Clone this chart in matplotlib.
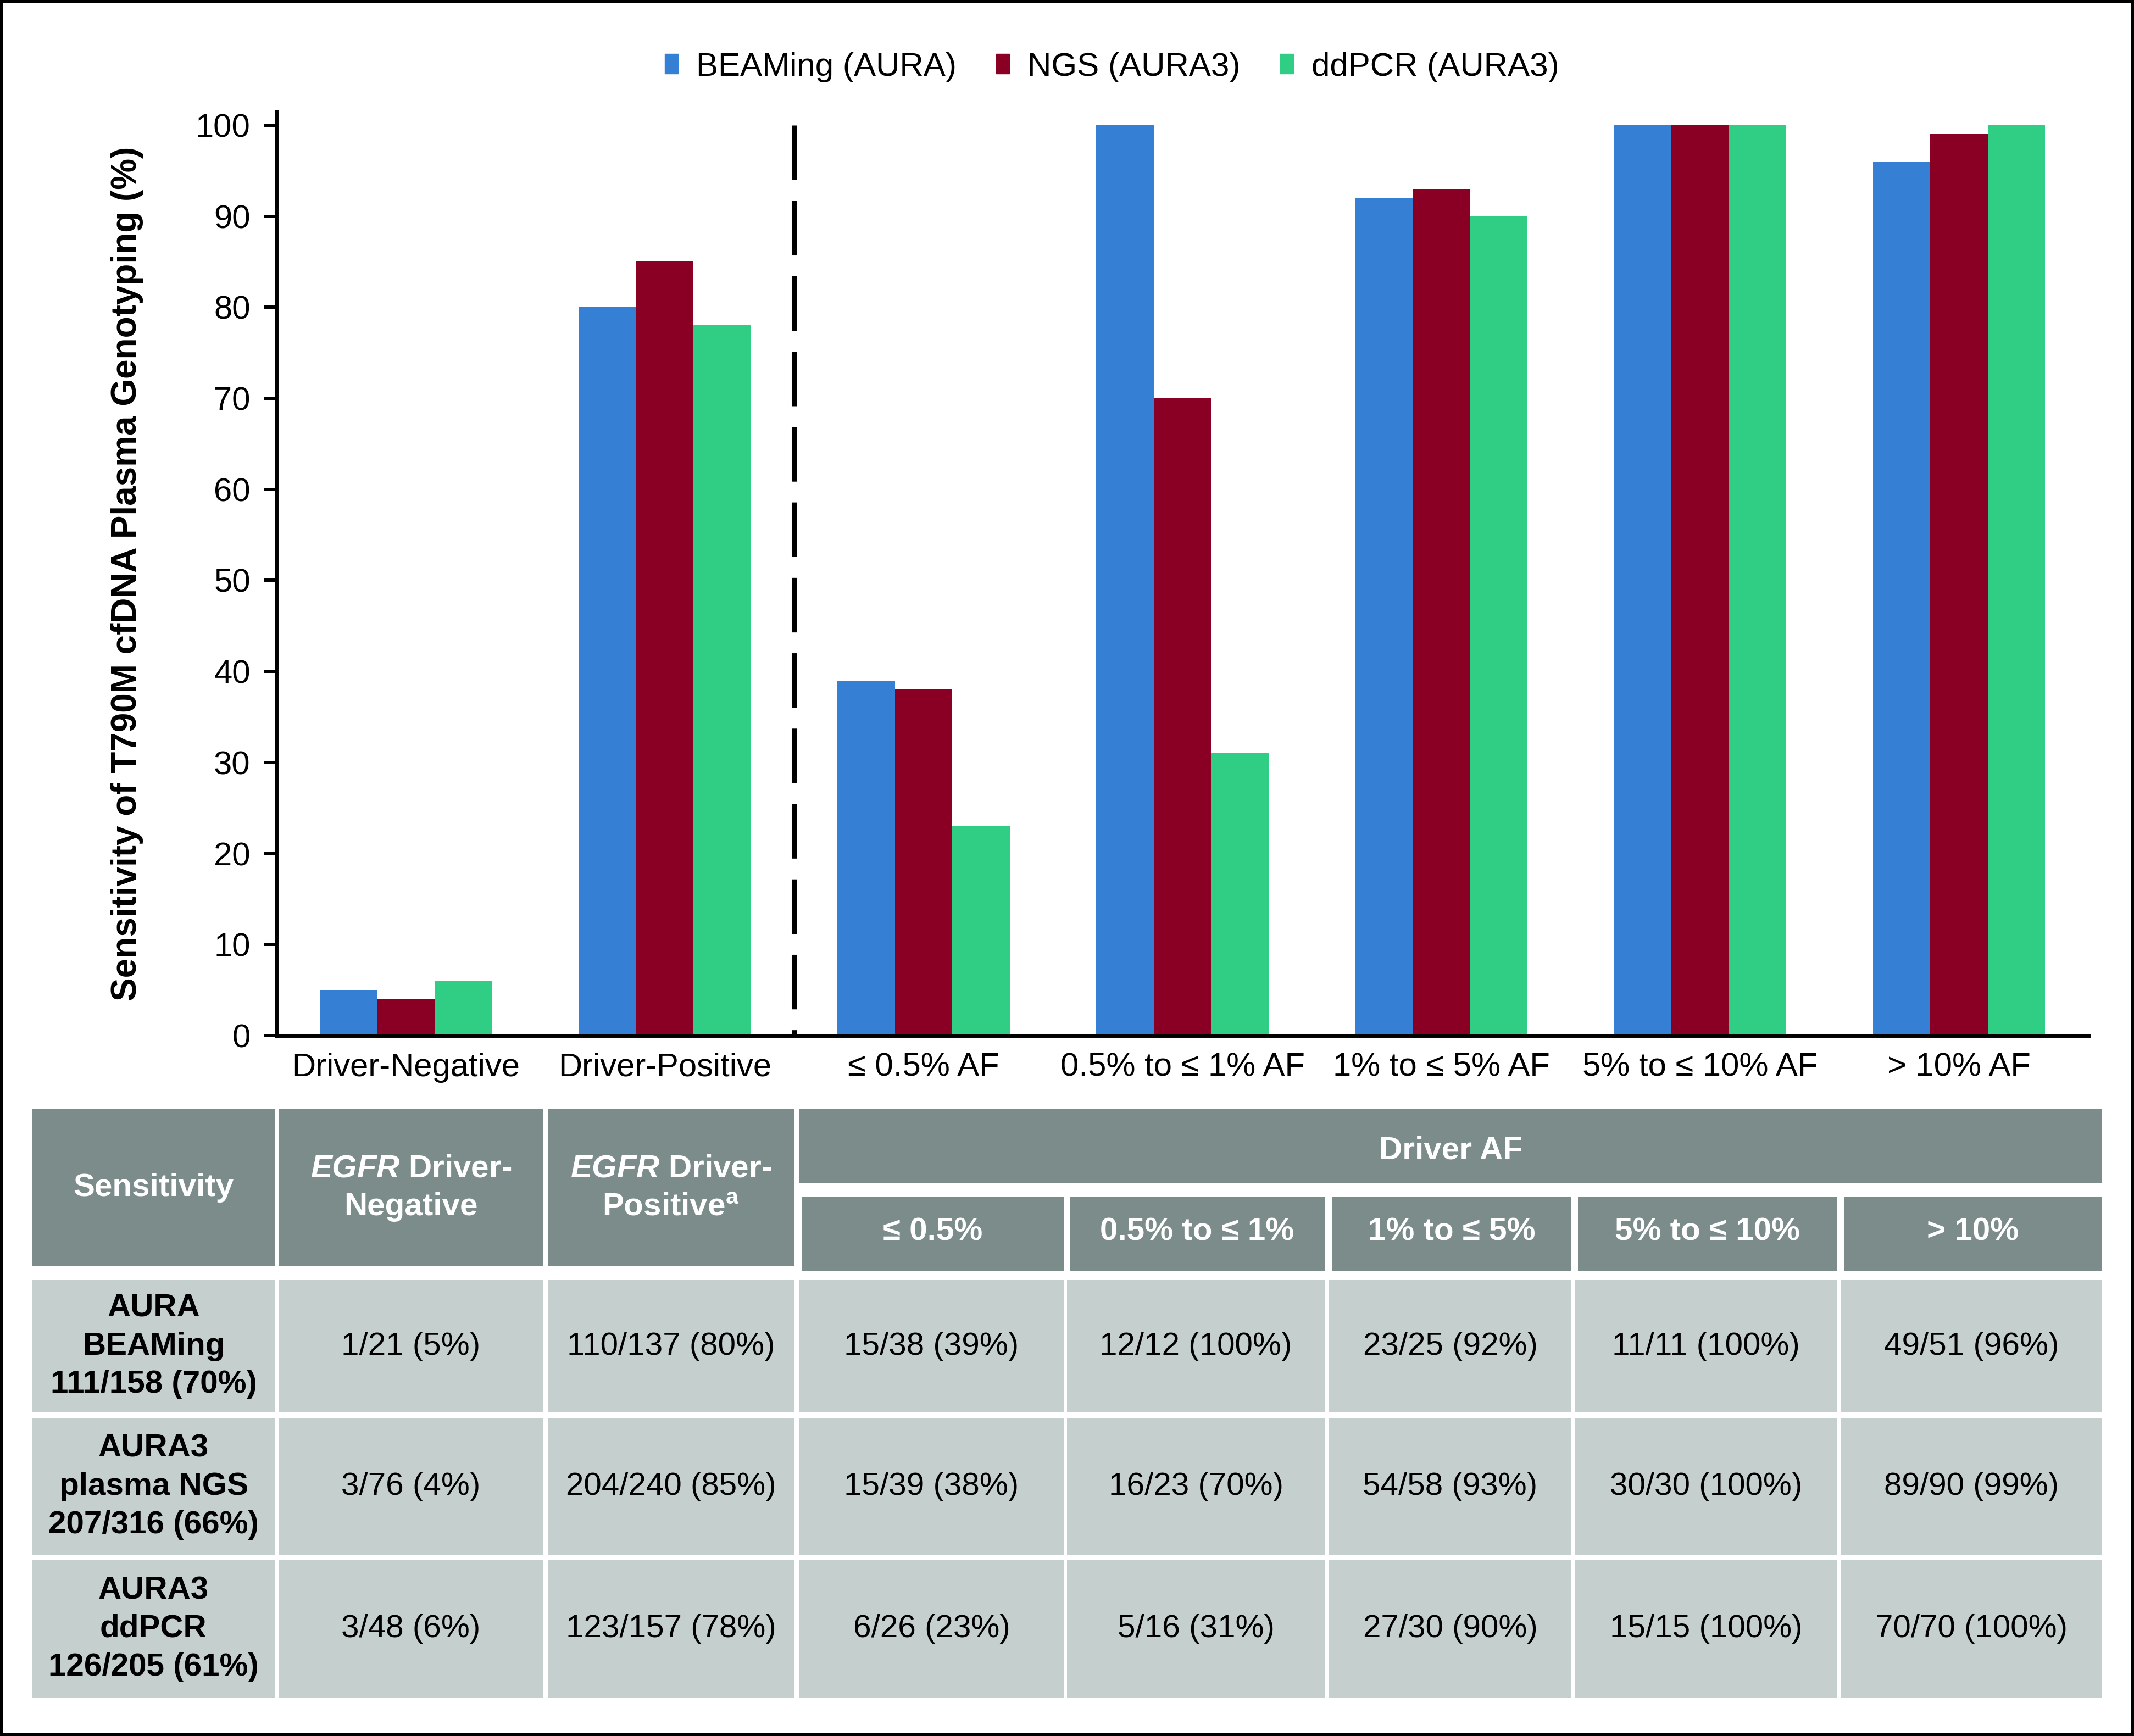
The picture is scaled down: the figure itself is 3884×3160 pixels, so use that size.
import numpy as np
import matplotlib
matplotlib.use('Agg')
import matplotlib.pyplot as plt
from matplotlib.patches import Rectangle, Patch

plt.rcParams['font.family'] = ['Liberation Sans', 'DejaVu Sans']
plt.rcParams['mathtext.fontset'] = 'custom'
plt.rcParams['mathtext.it'] = 'Liberation Sans:italic:bold'
plt.rcParams['mathtext.rm'] = 'Liberation Sans:bold'
plt.rcParams['mathtext.bf'] = 'Liberation Sans:bold'

# chart data
categories = ['Driver-Negative', 'Driver-Positive', '≤ 0.5% AF', '0.5% to ≤ 1% AF',
              '1% to ≤ 5% AF', '5% to ≤ 10% AF', '> 10% AF']
series_names = ['BEAMing (AURA)', 'NGS (AURA3)', 'ddPCR (AURA3)']
beaming = [5, 80, 39, 100, 92, 100, 96]
ngs = [4, 85, 38, 70, 93, 100, 99]
ddpcr = [6, 78, 23, 31, 90, 100, 100]
colors = ['#3580D5', '#8A0024', '#30CD84']

# table data
header_labels = ['Sensitivity', '$\\mathit{EGFR}$ Driver-\nNegative', '$\\mathit{EGFR}$ Driver-\nPositive$^{\\mathrm{a}}$']
af_title = 'Driver AF'
af_headers = ['≤ 0.5%', '0.5% to ≤ 1%', '1% to ≤ 5%', '5% to ≤ 10%', '> 10%']
row_labels = ['AURA\nBEAMing\n111/158 (70%)', 'AURA3\nplasma NGS\n207/316 (66%)', 'AURA3\nddPCR\n126/205 (61%)']
beaming_cells = ['1/21 (5%)', '110/137 (80%)', '15/38 (39%)', '12/12 (100%)', '23/25 (92%)', '11/11 (100%)', '49/51 (96%)']
ngs_cells = ['3/76 (4%)', '204/240 (85%)', '15/39 (38%)', '16/23 (70%)', '54/58 (93%)', '30/30 (100%)', '89/90 (99%)']
ddpcr_cells = ['3/48 (6%)', '123/157 (78%)', '6/26 (23%)', '5/16 (31%)', '27/30 (90%)', '15/15 (100%)', '70/70 (100%)']

W, H = 3884, 3160
fig = plt.figure(figsize=(W / 100, H / 100), dpi=100)

# ---- bar chart ----
ax_l, ax_r, ax_b, ax_t = 503, 3801, 1885, 203
ax = fig.add_axes([ax_l / W, 1 - ax_b / H, (ax_r - ax_l) / W, (ax_b - ax_t) / H])
x = np.arange(len(categories))
bw = 0.222
for i, (vals, c) in enumerate(zip([beaming, ngs, ddpcr], colors)):
    ax.bar(x + (i - 1) * bw, vals, width=bw, color=c, zorder=2)
# dashed separator, drawn top-down so the first dash starts at 100
ax.plot([1.5, 1.5], [100, 0], color='black', lw=6.5, dashes=(11, 4.2), zorder=3)
ax.set_xlim(-0.5, 6.5)
ax.set_ylim(0, 101.5)
ax.set_yticks(np.arange(0, 101, 10))
ax.set_xticks(x)
ax.set_xticklabels(categories, fontsize=43)
ax.tick_params(axis='y', labelsize=43, length=16, width=4.3, pad=18, direction='out')
ax.tick_params(axis='x', length=0, pad=22)
for s in ['top', 'right']:
    ax.spines[s].set_visible(False)
for s in ['left', 'bottom']:
    ax.spines[s].set_linewidth(5)
ax.set_ylabel('Sensitivity of T790M cfDNA Plasma Genotyping (%)', fontsize=46, fontweight='bold')
ax.yaxis.set_label_coords(-0.0735, 0.5)

handles = [Patch(color=c) for c in colors]
fig.legend(handles, series_names, loc='center', bbox_to_anchor=(0.521, 1 - 122 / H), ncol=3,
           frameon=False, fontsize=43.3, handlelength=0.4, handleheight=0.55,
           handletextpad=0.55, columnspacing=1.2)

# ---- table ----
tab = fig.add_axes([0, 0, 1, 1])
tab.set_xlim(0, W)
tab.set_ylim(H, 0)
tab.set_axis_off()

head_c = '#7B8C8B'
cell_c = '#C5CFCD'
col_edges = [(59, 500), (508, 988), (997, 1445), (1455, 1936), (1942, 2411),
             (2419, 2860), (2867, 3343), (3351, 3825)]
row_edges = [(2330, 2571), (2582, 2830), (2840, 3090)]


def cell(x0, x1, y0, y1, fill, text, dy=0, **kw):
    tab.add_patch(Rectangle((x0, y0), x1 - x0, y1 - y0, color=fill, lw=0))
    tab.text((x0 + x1) / 2, (y0 + y1) / 2 + dy, text, ha='center', va='center',
             multialignment='center', fontsize=42, linespacing=1.38, **kw)


for (x0, x1), lab in zip(col_edges[:3], header_labels):
    cell(x0, x1, 2019, 2305, head_c, lab, color='white', fontweight='bold')
cell(1455, 3825, 2019, 2153, head_c, af_title, dy=8, color='white', fontweight='bold')
for (x0, x1), lab in zip(col_edges[3:], af_headers):
    cell(x0 + 5, x1, 2179, 2313, head_c, lab, dy=-4, color='white', fontweight='bold')

for (y0, y1), lab, vals in zip(row_edges, row_labels, [beaming_cells, ngs_cells, ddpcr_cells]):
    cell(col_edges[0][0], col_edges[0][1], y0, y1, cell_c, lab, color='black', fontweight='bold')
    for (x0, x1), v in zip(col_edges[1:], vals):
        cell(x0, x1, y0, y1, cell_c, v, color='black')

# outer frame
fig.patches.append(Rectangle((0, 0), 1, 1, transform=fig.transFigure, fill=False,
                             edgecolor='black', lw=7.2, zorder=10))

fig.savefig('out.png', dpi=100)
